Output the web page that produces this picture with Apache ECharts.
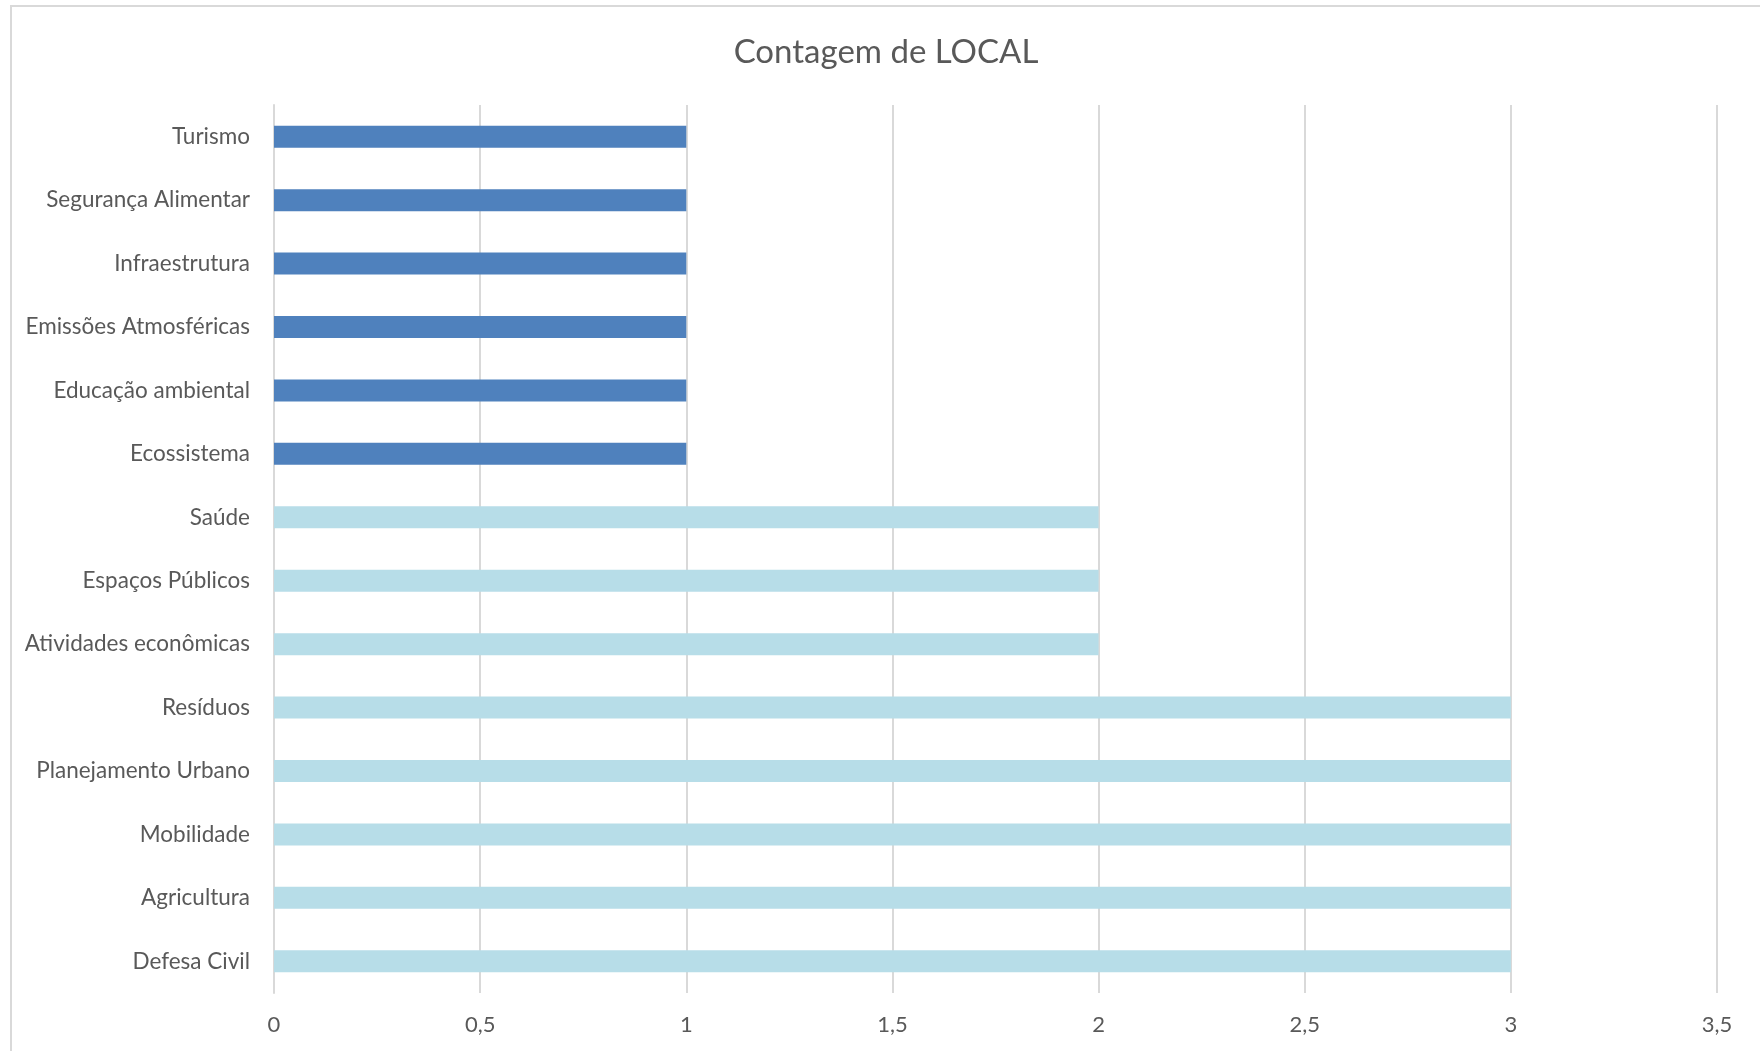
<!DOCTYPE html>
<html>
<head>
<meta charset="utf-8">
<script src="https://cdn.jsdelivr.net/npm/echarts@6/dist/echarts.min.js"></script>
<style>
  html, body { margin: 0; padding: 0; background: #fff; }
  #chart { width: 1760px; height: 1051px; }
</style>
</head>
<body>
<div id="chart"></div>
<script>
// categorias de baixo para cima (eixo de categorias do ECharts cresce para cima)
const categories = [
  'Defesa Civil', 'Agricultura', 'Mobilidade', 'Planejamento Urbano', 'Resíduos',
  'Atividades econômicas', 'Espaços Públicos', 'Saúde',
  'Ecossistema', 'Educação ambiental', 'Emissões Atmosféricas', 'Infraestrutura',
  'Segurança Alimentar', 'Turismo'
];
const counts = [3, 3, 3, 3, 3, 2, 2, 2, 1, 1, 1, 1, 1, 1];
const xTicks = [0, 0.5, 1, 1.5, 2, 2.5, 3, 3.5];

const colorHigh = '#b7dde8';
const colorLow = '#4f81bd';
const textColor = '#595959';
const gridColor = '#d9d9d9';
const font = 'Lato, "Open Sans", sans-serif';

const chart = echarts.init(document.getElementById('chart'));

chart.setOption({
  animation: false,
  backgroundColor: '#fff',
  title: {
    text: 'Contagem de LOCAL',
    left: 881,
    textAlign: 'center',
    top: 31,
    textStyle: { color: textColor, fontSize: 33, fontWeight: 'normal', fontFamily: font },
  },
  graphic: [
    {
      type: 'rect',
      shape: { x: 11, y: 6, width: 1800, height: 1100 },
      style: { fill: 'none', stroke: gridColor, lineWidth: 2 },
      silent: true,
    },
  ],
  grid: { left: 274, right: 43, top: 105, bottom: 58 },
  xAxis: {
    type: 'value',
    min: xTicks[0],
    max: xTicks[xTicks.length - 1],
    interval: 0.5,
    axisLine: { show: false },
    axisTick: { show: false },
    axisLabel: {
      color: textColor,
      fontSize: 22,
      fontFamily: font,
      margin: 21,
      formatter: (v) => String(v).replace('.', ','),
    },
    splitLine: { show: true, lineStyle: { color: gridColor, width: 2 } },
  },
  yAxis: {
    type: 'category',
    data: categories,
    axisLine: { show: true, lineStyle: { color: gridColor, width: 2 } },
    axisTick: { show: false },
    axisLabel: { color: textColor, fontSize: 22.5, fontFamily: font, margin: 24 },
    splitLine: { show: false },
  },
  series: [
    {
      type: 'bar',
      data: counts,
      barWidth: 22,
      itemStyle: {
        color: (p) => (p.value >= 2 ? colorHigh : colorLow),
      },
    },
  ],
});
</script>
</body>
</html>
